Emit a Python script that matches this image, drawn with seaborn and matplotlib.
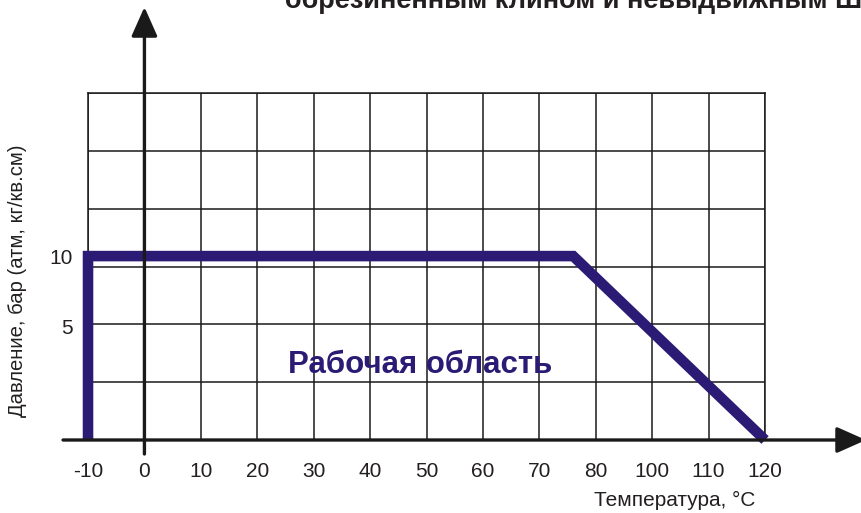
import numpy as np
import pandas as pd
import matplotlib
matplotlib.use("Agg")
import matplotlib.pyplot as plt
import seaborn as sns

sns.set_style("white")
plt.rcParams["font.family"] = ["Liberation Sans", "DejaVu Sans"]

# tick values as printed (the temperature axis jumps 80 -> 100 in one cell)
temp_ticks = [-10, 0, 10, 20, 30, 40, 50, 60, 70, 80, 100, 110, 120]
pressure_ticks = [5, 10]

# boundary of the working area
boundary_temp = [-10, -10, 76, 120]
boundary_pressure = [0, 10, 10, 0]

title = "обрезиненным клином и невыдвижным ШПИНДЕЛЕМ"
area_label = "Рабочая область"
xlabel = "Температура, °C"
ylabel = "Давление, бар (атм, кг/кв.см)"

navy = "#2b1b74"
ink = "#231f20"

# piecewise scales: values -> grid cells
x_knots = [-1000] + temp_ticks + [1000]
x_cells = [-99] + list(range(len(temp_ticks))) + [100]
y_knots = [-100, 0, 5, 10, 100]
y_cells = [-39.4, 0, 1.97, 3.18, 25.1]


def fwd_x(v):
    return np.interp(v, x_knots, x_cells)


def inv_x(c):
    return np.interp(c, x_cells, x_knots)


def fwd_y(v):
    return np.interp(v, y_knots, y_cells)


def inv_y(c):
    return np.interp(c, y_cells, y_knots)


df = pd.DataFrame({"temp": boundary_temp, "pressure": boundary_pressure})

fig = plt.figure(figsize=(8.62, 5.13), dpi=100)
ax = fig.add_axes([0.1021, 0.1423, 0.7854, 0.6764])

sns.lineplot(data=df, x="temp", y="pressure", sort=False, estimator=None,
             color=navy, linewidth=7.6, ax=ax, zorder=3)
boundary = ax.lines[-1]
boundary.set_solid_joinstyle("miter")
boundary.set_solid_capstyle("butt")
boundary.set_clip_on(False)

ax.set_xscale("function", functions=(fwd_x, inv_x))
ax.set_yscale("function", functions=(fwd_y, inv_y))
ax.set_xlim(-10, 120)
ax.set_ylim(0, inv_y(6))

ax.set_xticks(temp_ticks)
ax.set_xticklabels([str(t) for t in temp_ticks])
ax.set_yticks(pressure_ticks)
ax.set_yticklabels([str(p) for p in pressure_ticks])
ax.set_yticks(inv_y(np.arange(1, 7)), minor=True)
ax.xaxis.set_minor_locator(matplotlib.ticker.NullLocator())

ax.set_axisbelow(True)
ax.xaxis.grid(True, which="major", color="#1a1a1a", linewidth=1.1)
ax.yaxis.grid(True, which="minor", color="#1a1a1a", linewidth=1.1)
ax.yaxis.grid(False, which="major")
ax.tick_params(axis="both", which="both", length=0, labelsize=15, labelcolor=ink)
ax.tick_params(axis="x", pad=16)
ax.tick_params(axis="y", pad=11)
for side in ["left", "right", "top"]:
    ax.spines[side].set_color("#1a1a1a")
    ax.spines[side].set_linewidth(1.1)
ax.spines["bottom"].set_visible(False)
ax.set_xlabel("")
ax.set_ylabel("")

# axes with arrows
arrow = dict(arrowstyle="-|>,head_length=1.8,head_width=0.8", mutation_scale=10,
             lw=2.4, color="#1a1a1a", shrinkA=0, shrinkB=0)
ax.annotate("", xy=(0, 433 / 347), xytext=(0, -14 / 347),
            xycoords=ax.get_xaxis_transform(), textcoords=ax.get_xaxis_transform(),
            arrowprops=arrow, annotation_clip=False, zorder=4)
ax.annotate("", xy=(778 / 677, 0), xytext=(-25 / 677, 0),
            xycoords=ax.get_yaxis_transform(), textcoords=ax.get_yaxis_transform(),
            arrowprops=arrow, annotation_clip=False, zorder=4)

ax.text(0.490, 0.216, area_label, transform=ax.transAxes, ha="center", va="center",
        fontsize=22.5, fontweight="bold", color=navy, zorder=5)
ax.text(0.866, -0.173, xlabel, transform=ax.transAxes, ha="center", va="center",
        fontsize=15, color=ink)
ax.text(-0.104, 0.458, ylabel, transform=ax.transAxes, ha="center", va="center",
        rotation=90, fontsize=14.6, color=ink)

fig.text(285 / 862, 1 - 8 / 513, title, ha="left", va="baseline",
         fontsize=19.5, fontweight="bold", color=ink)

fig.savefig("out.png", dpi=100)
